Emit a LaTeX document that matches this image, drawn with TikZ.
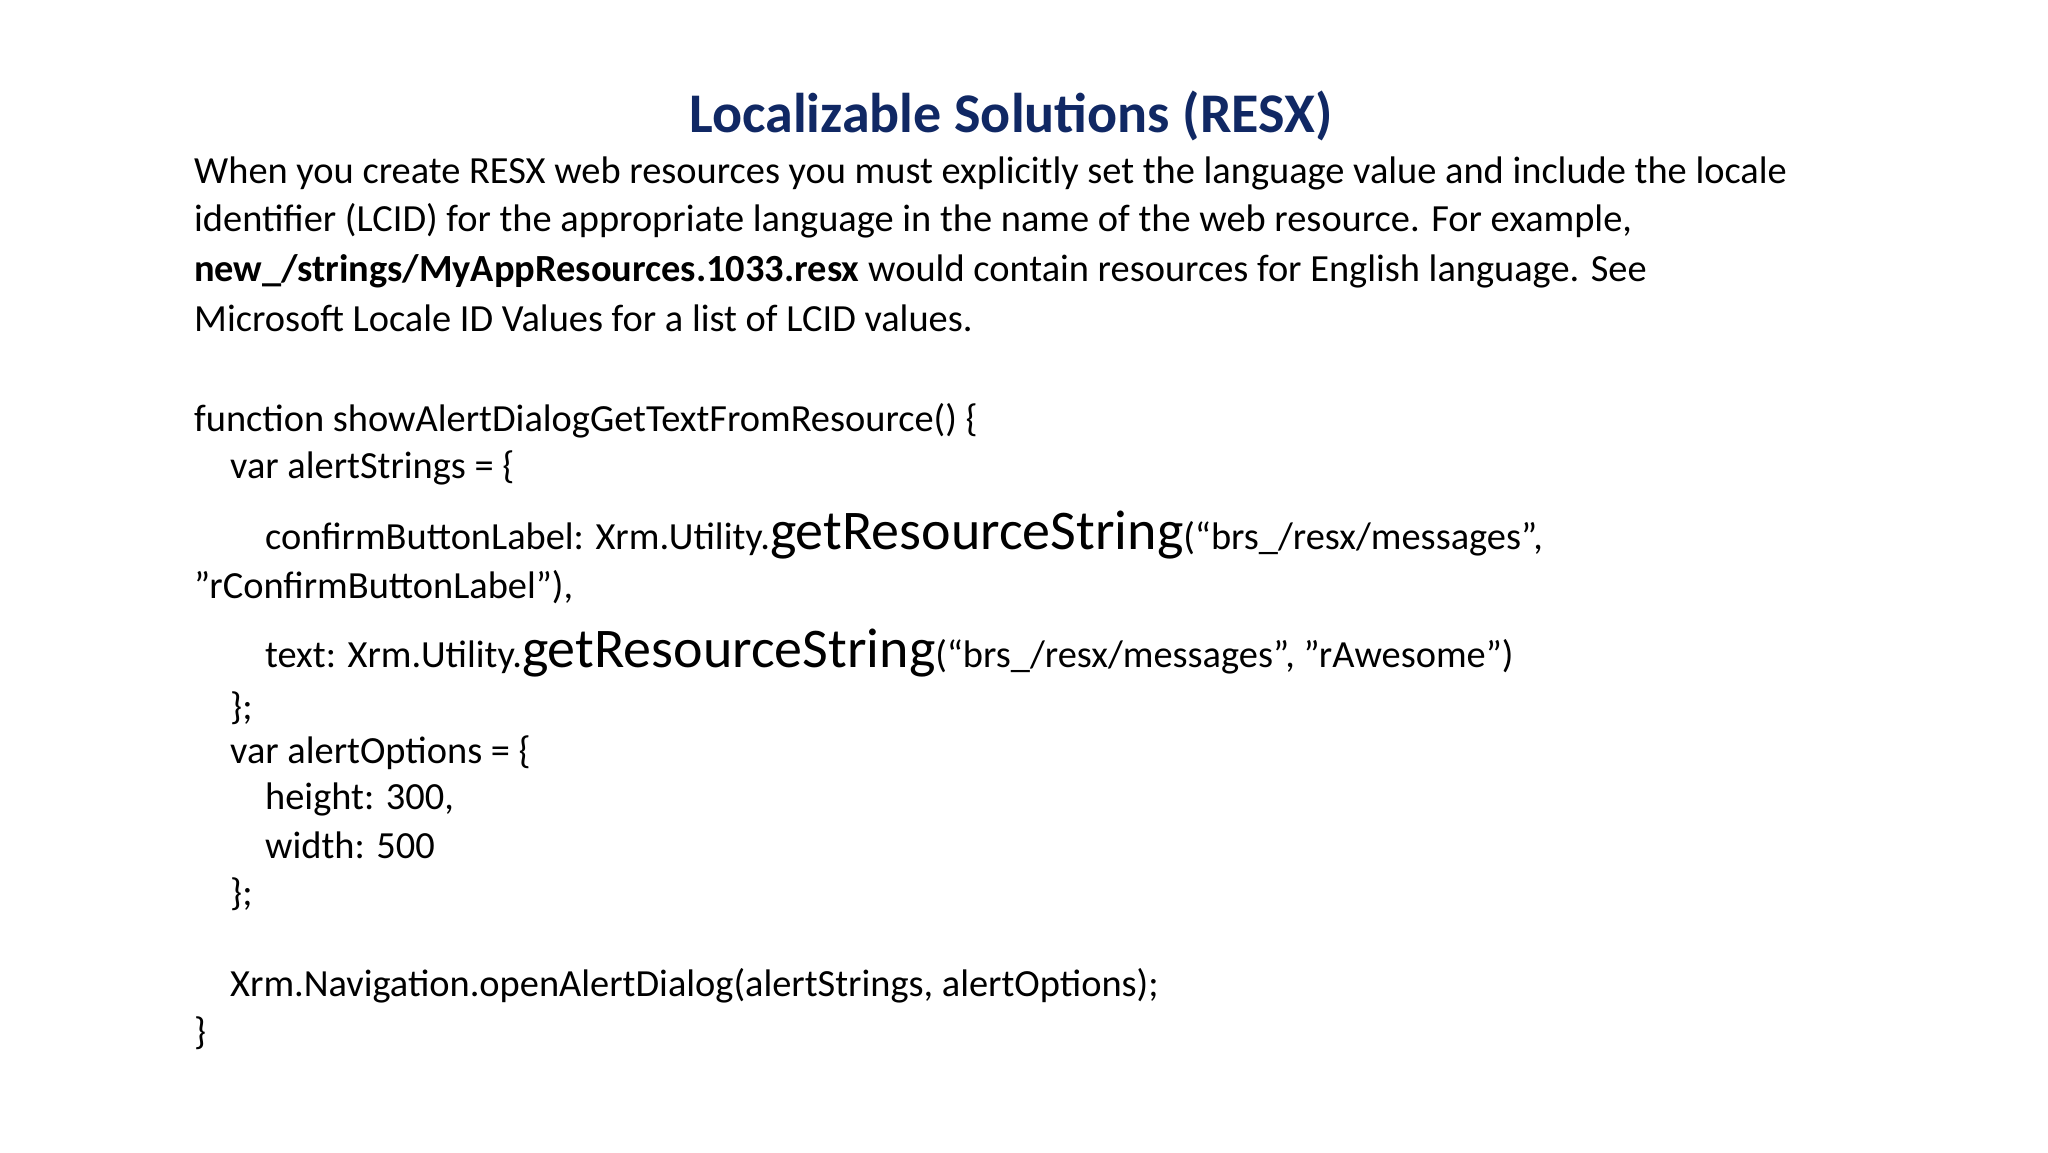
\documentclass[tikz,border=0pt]{standalone}
\usepackage{fontspec}
\setmainfont{Carlito}
\definecolor{titleblue}{RGB}{16,40,100}
\begin{document}
\begin{tikzpicture}[x=1pt,y=-1pt,
  body/.style={anchor=west,inner sep=0pt,font=\fontsize{38.4}{46}\selectfont},
  big/.style={font=\fontsize{56}{60}\selectfont}]
\useasboundingbox (0,0) rectangle (2048,1152);
\node[inner sep=0pt,font=\fontsize{56}{60}\selectfont\bfseries,text=titleblue] (title) at (1011,116) {Localizable Solutions (RESX)};
\node[body] (p1) at (194,173) {When you create RESX web resources you must explicitly set the language value and include the locale};
\node[body] (p2) at (194,221) {identifier (LCID) for the appropriate language in the name of the web resource. For example,};
\node[body] (p3) at (194,271) {\textbf{new\_/strings/MyAppResources.1033.resx} would contain resources for English language. See};
\node[body] (p4) at (194,318) {Microsoft Locale ID Values for a list of LCID values.};
\node[body] (c1) at (194,421) {function showAlertDialogGetTextFromResource() \{};
\node[body] (c2) at (230,468) {var alertStrings = \{};
\node[body] (c3) at (265,535) {confirmButtonLabel: Xrm.Utility.{\fontsize{56}{60}\selectfont getResourceString}(“brs\_/resx/messages",};
\node[body] (c4) at (194,587) {"rConfirmButtonLabel"),};
\node[body] (c5) at (265,653) {text: Xrm.Utility.{\fontsize{56}{60}\selectfont getResourceString}(“brs\_/resx/messages", "rAwesome")};
\node[body] (c6) at (230,708) {\};};
\node[body] (c7) at (230,753) {var alertOptions = \{};
\node[body] (c8) at (265,799) {height: 300,};
\node[body] (c9) at (265,845) {width: 500};
\node[body] (c10) at (230,894) {\};};
\node[body] (c11) at (230,986) {Xrm.Navigation.openAlertDialog(alertStrings, alertOptions);};
\node[body] (c12) at (194,1033) {\}};
\end{tikzpicture}
\end{document}
